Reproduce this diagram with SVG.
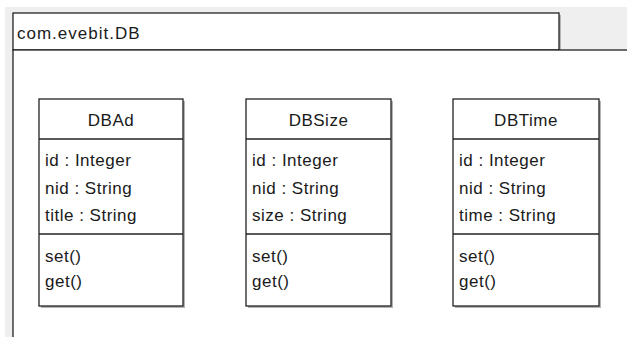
<svg xmlns="http://www.w3.org/2000/svg" width="627" height="337" viewBox="0 0 627 337">
<style>
.bg{fill:#efefef}
.box{fill:#ffffff;stroke:#222222;stroke-width:1.3}
.sh{fill:#b4b4b4}
.ln{stroke:#222222;stroke-width:1.3;fill:none}
text{font-family:"Liberation Sans",Arial,sans-serif;font-size:17px;fill:#1a1a1a;letter-spacing:0.5px}
.ttl{letter-spacing:1px}
.c{text-anchor:middle}
</style>
<rect x="0" y="0" width="627" height="337" fill="#ffffff"/>
<rect class="bg" x="5" y="7" width="622" height="330"/>
<g id="package">
  <rect class="sh" x="15" y="15" width="546" height="37"/>
  <rect class="box" x="13" y="13" width="546" height="37"/>
  <text class="ttl" x="17" y="39">com.evebit.DB</text>
  <rect x="13" y="50" width="620" height="300" fill="#ffffff" stroke="#222222" stroke-width="1.3"/>
</g>
<g id="DBAd">
  <rect class="sh" x="41" y="101" width="144" height="207"/>
  <rect class="box" x="39" y="99" width="144" height="207"/>
  <line class="ln" x1="39" y1="139" x2="183" y2="139"/>
  <line class="ln" x1="39" y1="234" x2="183" y2="234"/>
  <text class="c" x="111" y="126">DBAd</text>
  <text x="45" y="165.5">id : Integer</text>
  <text x="45" y="193.5">nid : String</text>
  <text x="45" y="221">title : String</text>
  <text x="45" y="262">set()</text>
  <text x="45" y="287">get()</text>
</g>
<g id="DBSize">
  <rect class="sh" x="248" y="101" width="145" height="207"/>
  <rect class="box" x="246" y="99" width="145" height="207"/>
  <line class="ln" x1="246" y1="139" x2="391" y2="139"/>
  <line class="ln" x1="246" y1="234" x2="391" y2="234"/>
  <text class="c" x="318.5" y="126">DBSize</text>
  <text x="252" y="165.5">id : Integer</text>
  <text x="252" y="193.5">nid : String</text>
  <text x="252" y="221">size : String</text>
  <text x="252" y="262">set()</text>
  <text x="252" y="287">get()</text>
</g>
<g id="DBTime">
  <rect class="sh" x="455" y="101" width="146" height="207"/>
  <rect class="box" x="453" y="99" width="146" height="207"/>
  <line class="ln" x1="453" y1="139" x2="599" y2="139"/>
  <line class="ln" x1="453" y1="234" x2="599" y2="234"/>
  <text class="c" x="526" y="126">DBTime</text>
  <text x="459" y="165.5">id : Integer</text>
  <text x="459" y="193.5">nid : String</text>
  <text x="459" y="221">time : String</text>
  <text x="459" y="262">set()</text>
  <text x="459" y="287">get()</text>
</g>
<g id="connectors"/>
</svg>
